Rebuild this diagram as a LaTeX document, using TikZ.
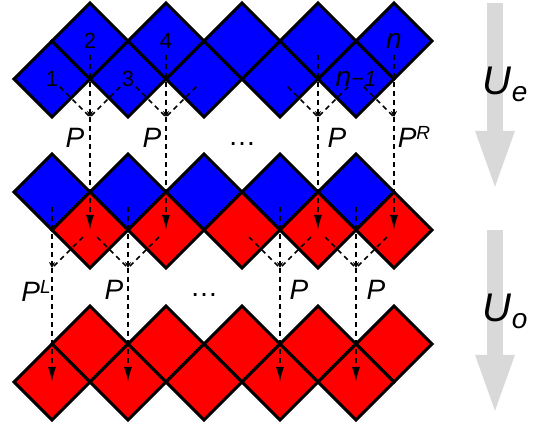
\documentclass[tikz,border=0pt]{standalone}
\usepackage{fontspec}
\setmainfont{Liberation Sans}
\usetikzlibrary{shapes.geometric, arrows.meta}

\newcommand{\nsite}{{\fontsize{28}{28}\selectfont\itshape n}}
\newcommand{\gatelabel}[1]{\textit{P}\raisebox{8pt}{\fontsize{19}{19}\selectfont\textit{#1}}}

\tikzset{
    site/.style={diamond, aspect=1, draw=black, line width=2.9pt, minimum width=76pt, minimum height=76pt, inner sep=0pt, outer sep=0pt, font=\fontsize{22}{22}\selectfont},
    gate/.style={line width=1.6pt, dash pattern=on 5pt off 4pt},
    plabel/.style={anchor=base, inner sep=0pt, font=\fontsize{28}{28}\selectfont},
    ulabel/.style={anchor=base, inner sep=0pt, font=\fontsize{40}{40}\selectfont},
    bigarrow/.style={line width=16pt, black!15, -{Triangle[length=62pt, width=34pt]}}
}

\begin{document}
\begin{tikzpicture}[x=1pt, y=-1pt]
    \useasboundingbox (0,0) rectangle (550,427);

    % Sites before U_e
    \foreach \n/\x/\txt in {1/52/1, 3/128/3, 5/204/, 7/280/, 9/356/{\nsite\textit{−1}}}
        \node[site, fill=blue] (t\n) at (\x,79) {\txt};
    \foreach \n/\x/\txt in {2/90/2, 4/166/4, 6/242/, 8/318/, 10/394/\nsite}
        \node[site, fill=blue] (t\n) at (\x,41) {\txt};

    % Sites after U_e
    \foreach \n/\x in {1/52, 3/128, 5/204, 7/280, 9/356}
        \node[site, fill=blue] (m\n) at (\x,192) {};
    \foreach \n/\x in {2/90, 4/166, 6/242, 8/318, 10/394}
        \node[site, fill=red] (m\n) at (\x,230) {};

    % Sites after U_o
    \foreach \n/\x in {2/90, 4/166, 6/242, 8/318, 10/394}
        \node[site, fill=red] (b\n) at (\x,344) {};
    \foreach \n/\x in {1/52, 3/128, 5/204, 7/280, 9/356}
        \node[site, fill=red] (b\n) at (\x,382) {};

    % Gates of U_e
    \foreach \a/\b in {1/2, 3/4, 7/8, 9/10} {
        \coordinate (q\b) at (t\b |- t\a.south);
        \draw[gate, shorten <=14pt, -{Stealth[length=6pt, width=6pt]}] (t\b.center) -- (q\b);
        \draw[gate, shorten <=11pt] (t\a.center) -- (q\b);
        \draw[gate, -{Latex[length=15pt, width=8pt]}] (q\b) -- (m\b.center);
    }
    \foreach \b/\c in {2/3, 4/5, 8/9}
        \draw[gate, shorten <=11pt] (t\c.center) -- (q\b);

    % Gates of U_o
    \foreach \b/\c in {1/2, 3/4, 7/8, 9/10} {
        \coordinate (r\b) at (m\b |- m\c.south);
        \draw[gate, shorten <=15pt, -{Stealth[length=6pt, width=6pt]}] (m\b.center) -- (r\b);
        \draw[gate, shorten <=10pt] (m\c.center) -- (r\b);
        \draw[gate, -{Latex[length=15pt, width=8pt]}] (r\b) -- (b\b.center);
    }
    \foreach \a/\b in {2/3, 6/7, 8/9}
        \draw[gate, shorten <=10pt] (m\a.center) -- (r\b);

    % Gate labels
    \node[plabel] (p2) at (75,148) {\textit{P}};
    \node[plabel] (p4) at (152,148) {\textit{P}};
    \node[plabel] (dots1) at (242,146) {…};
    \node[plabel] (p8) at (337,148) {\textit{P}};
    \node[plabel] (p10) at (414,148) {\gatelabel{R}};
    \node[plabel] (p1) at (36,302) {\gatelabel{L}};
    \node[plabel] (p3) at (114,300) {\textit{P}};
    \node[plabel] (dots2) at (204,297) {…};
    \node[plabel] (p7) at (299,300) {\textit{P}};
    \node[plabel] (p9) at (376,300) {\textit{P}};

    % Time steps
    \coordinate (ue1) at (495,3);
    \coordinate (ue2) at (495,193);
    \coordinate (uo1) at (495,230);
    \coordinate (uo2) at (495,417);
    \draw[bigarrow] (ue1) -- (ue2);
    \draw[bigarrow] (uo1) -- (uo2);
    \node[ulabel] (ue) at (505,95) {\textit{U}\raisebox{-7pt}{\fontsize{28}{28}\selectfont\textit{e}}};
    \node[ulabel] (uo) at (505,322) {\textit{U}\raisebox{-7pt}{\fontsize{28}{28}\selectfont\textit{o}}};
\end{tikzpicture}
\end{document}
